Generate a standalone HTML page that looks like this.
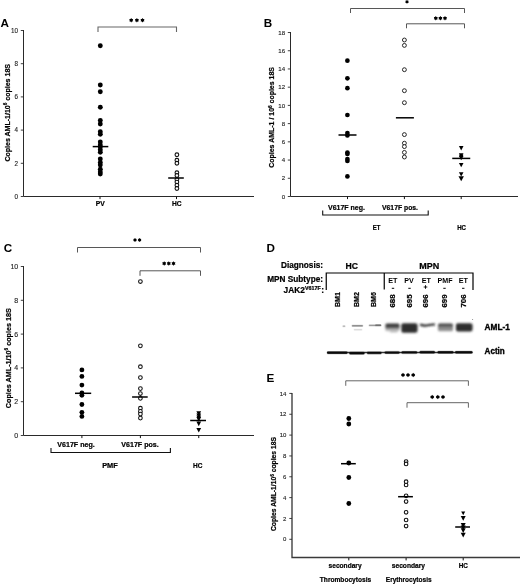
<!DOCTYPE html>
<html><head><meta charset="utf-8"><title>Figure</title>
<style>
html,body{margin:0;padding:0;background:#fff;}
body{width:520px;height:584px;overflow:hidden;font-family:"Liberation Sans",sans-serif;}
svg{display:block;will-change:transform;font-family:"Liberation Sans",sans-serif;}
</style></head><body>
<svg width="520" height="584" viewBox="0 0 520 584">
<defs>
<filter id="bl" x="-5%" y="-50%" width="110%" height="200%"><feGaussianBlur stdDeviation="0.85"/></filter>
<filter id="bl2" x="-5%" y="-100%" width="110%" height="300%"><feGaussianBlur stdDeviation="0.5"/></filter>
<linearGradient id="g688" x1="0" y1="0" x2="0" y2="1"><stop offset="0" stop-color="#333"/><stop offset="0.45" stop-color="#4a4a4a"/><stop offset="0.7" stop-color="#aaa"/><stop offset="1" stop-color="#ddd"/></linearGradient>
<linearGradient id="g699" x1="0" y1="0" x2="0" y2="1"><stop offset="0" stop-color="#383838"/><stop offset="0.3" stop-color="#555"/><stop offset="0.5" stop-color="#888"/><stop offset="1" stop-color="#999"/></linearGradient>
</defs>
<rect width="520" height="584" fill="#fff"/>
<text x="0.4" y="26.5" font-size="11.7" font-weight="bold" text-anchor="start" fill="#000">A</text>
<path d="M23.5 30V196.5H254" fill="none" stroke="#2a2a2a" stroke-width="1"/>
<path d="M20.8 196.5H23.5" stroke="#2a2a2a" stroke-width="0.9"/>
<text x="18.0" y="198.7" font-size="6.3" font-weight="normal" text-anchor="end" fill="#222" stroke="#222" stroke-width="0.12">0</text>
<path d="M20.8 163.3H23.5" stroke="#2a2a2a" stroke-width="0.9"/>
<text x="18.0" y="165.5" font-size="6.3" font-weight="normal" text-anchor="end" fill="#222" stroke="#222" stroke-width="0.12">2</text>
<path d="M20.8 130.1H23.5" stroke="#2a2a2a" stroke-width="0.9"/>
<text x="18.0" y="132.29999999999998" font-size="6.3" font-weight="normal" text-anchor="end" fill="#222" stroke="#222" stroke-width="0.12">4</text>
<path d="M20.8 96.89999999999999H23.5" stroke="#2a2a2a" stroke-width="0.9"/>
<text x="18.0" y="99.1" font-size="6.3" font-weight="normal" text-anchor="end" fill="#222" stroke="#222" stroke-width="0.12">6</text>
<path d="M20.8 63.69999999999999H23.5" stroke="#2a2a2a" stroke-width="0.9"/>
<text x="18.0" y="65.89999999999999" font-size="6.3" font-weight="normal" text-anchor="end" fill="#222" stroke="#222" stroke-width="0.12">8</text>
<path d="M20.8 30.5H23.5" stroke="#2a2a2a" stroke-width="0.9"/>
<text x="18.0" y="32.7" font-size="6.3" font-weight="normal" text-anchor="end" fill="#222" stroke="#222" stroke-width="0.12">10</text>
<path d="M100 196.5V199.1" stroke="#111" stroke-width="1"/>
<path d="M176.5 196.5V199.1" stroke="#111" stroke-width="1"/>
<text x="9.7" y="112.8" font-size="7.6" font-weight="bold" text-anchor="middle" fill="#000" textLength="97.6" lengthAdjust="spacingAndGlyphs" transform="rotate(-90 9.7 112.8)" stroke="#000" stroke-width="0.22">Copies AML-1/10<tspan font-size="5" dy="-2.6">6</tspan><tspan dy="2.6"> copies 18S</tspan></text>
<circle cx="100.3" cy="45.7" r="2.45" fill="#000"/>
<circle cx="100.3" cy="85" r="2.45" fill="#000"/>
<circle cx="100.3" cy="91.75" r="2.45" fill="#000"/>
<circle cx="100.3" cy="107.2" r="2.45" fill="#000"/>
<circle cx="100.3" cy="120.5" r="2.45" fill="#000"/>
<circle cx="100.3" cy="124" r="2.45" fill="#000"/>
<circle cx="100.3" cy="131.7" r="2.45" fill="#000"/>
<circle cx="100.3" cy="134.2" r="2.45" fill="#000"/>
<circle cx="100.3" cy="142" r="2.45" fill="#000"/>
<circle cx="100.3" cy="144.9" r="2.45" fill="#000"/>
<circle cx="100.3" cy="147" r="2.45" fill="#000"/>
<circle cx="100.3" cy="149.7" r="2.45" fill="#000"/>
<circle cx="100.3" cy="152.2" r="2.45" fill="#000"/>
<circle cx="100.3" cy="159" r="2.45" fill="#000"/>
<circle cx="100.3" cy="162.5" r="2.45" fill="#000"/>
<circle cx="100.3" cy="165" r="2.45" fill="#000"/>
<circle cx="100.3" cy="169.3" r="2.45" fill="#000"/>
<circle cx="100.3" cy="172" r="2.45" fill="#000"/>
<circle cx="100.3" cy="174" r="2.45" fill="#000"/>
<path d="M92.7 146.6H108.3" stroke="#000" stroke-width="1.5"/>
<circle cx="176.9" cy="154.75" r="1.85" fill="#fff" stroke="#111" stroke-width="1.1"/>
<circle cx="176.9" cy="160.25" r="1.85" fill="#fff" stroke="#111" stroke-width="1.1"/>
<circle cx="176.9" cy="163.25" r="1.85" fill="#fff" stroke="#111" stroke-width="1.1"/>
<circle cx="176.9" cy="172.7" r="1.85" fill="#fff" stroke="#111" stroke-width="1.1"/>
<circle cx="176.9" cy="175.5" r="1.85" fill="#fff" stroke="#111" stroke-width="1.1"/>
<circle cx="176.9" cy="179.6" r="1.85" fill="#fff" stroke="#111" stroke-width="1.1"/>
<circle cx="176.9" cy="182.1" r="1.85" fill="#fff" stroke="#111" stroke-width="1.1"/>
<circle cx="176.9" cy="185.2" r="1.85" fill="#fff" stroke="#111" stroke-width="1.1"/>
<circle cx="176.9" cy="188.5" r="1.85" fill="#fff" stroke="#111" stroke-width="1.1"/>
<path d="M168.2 178H183.8" stroke="#000" stroke-width="1.5"/>
<path d="M98 32V27H176.5V32" fill="none" stroke="#666" stroke-width="1.1"/>
<polygon points="131.20,17.95 131.92,18.94 133.15,19.07 132.65,20.20 133.15,21.32 131.92,21.46 131.20,22.45 130.47,21.46 129.25,21.32 129.75,20.20 129.25,19.07 130.47,18.94" fill="#000"/><polygon points="136.90,17.95 137.62,18.94 138.85,19.07 138.35,20.20 138.85,21.32 137.62,21.46 136.90,22.45 136.18,21.46 134.95,21.32 135.45,20.20 134.95,19.07 136.18,18.94" fill="#000"/><polygon points="142.50,17.95 143.22,18.94 144.45,19.07 143.95,20.20 144.45,21.32 143.22,21.46 142.50,22.45 141.78,21.46 140.55,21.32 141.05,20.20 140.55,19.07 141.78,18.94" fill="#000"/>
<text x="100.2" y="205.8" font-size="7.2" font-weight="bold" text-anchor="middle" fill="#000" textLength="9" lengthAdjust="spacingAndGlyphs" stroke="#000" stroke-width="0.22">PV</text>
<text x="176.8" y="205.8" font-size="7.2" font-weight="bold" text-anchor="middle" fill="#000" textLength="9.6" lengthAdjust="spacingAndGlyphs" stroke="#000" stroke-width="0.22">HC</text>
<text x="263.7" y="26.7" font-size="11.7" font-weight="bold" text-anchor="start" fill="#000">B</text>
<path d="M290.5 32V196.5H518" fill="none" stroke="#2a2a2a" stroke-width="1"/>
<path d="M287.8 196.5H290.5" stroke="#2a2a2a" stroke-width="0.9"/>
<text x="285.1" y="198.6" font-size="6.1" font-weight="normal" text-anchor="end" fill="#222" stroke="#222" stroke-width="0.12">0</text>
<path d="M287.8 178.28H290.5" stroke="#2a2a2a" stroke-width="0.9"/>
<text x="285.1" y="180.38" font-size="6.1" font-weight="normal" text-anchor="end" fill="#222" stroke="#222" stroke-width="0.12">2</text>
<path d="M287.8 160.06H290.5" stroke="#2a2a2a" stroke-width="0.9"/>
<text x="285.1" y="162.16" font-size="6.1" font-weight="normal" text-anchor="end" fill="#222" stroke="#222" stroke-width="0.12">4</text>
<path d="M287.8 141.84H290.5" stroke="#2a2a2a" stroke-width="0.9"/>
<text x="285.1" y="143.94" font-size="6.1" font-weight="normal" text-anchor="end" fill="#222" stroke="#222" stroke-width="0.12">6</text>
<path d="M287.8 123.62H290.5" stroke="#2a2a2a" stroke-width="0.9"/>
<text x="285.1" y="125.72" font-size="6.1" font-weight="normal" text-anchor="end" fill="#222" stroke="#222" stroke-width="0.12">8</text>
<path d="M287.8 105.4H290.5" stroke="#2a2a2a" stroke-width="0.9"/>
<text x="285.1" y="107.5" font-size="6.1" font-weight="normal" text-anchor="end" fill="#222" stroke="#222" stroke-width="0.12">10</text>
<path d="M287.8 87.18H290.5" stroke="#2a2a2a" stroke-width="0.9"/>
<text x="285.1" y="89.28" font-size="6.1" font-weight="normal" text-anchor="end" fill="#222" stroke="#222" stroke-width="0.12">12</text>
<path d="M287.8 68.96000000000001H290.5" stroke="#2a2a2a" stroke-width="0.9"/>
<text x="285.1" y="71.06" font-size="6.1" font-weight="normal" text-anchor="end" fill="#222" stroke="#222" stroke-width="0.12">14</text>
<path d="M287.8 50.74000000000001H290.5" stroke="#2a2a2a" stroke-width="0.9"/>
<text x="285.1" y="52.84000000000001" font-size="6.1" font-weight="normal" text-anchor="end" fill="#222" stroke="#222" stroke-width="0.12">16</text>
<path d="M287.8 32.52000000000001H290.5" stroke="#2a2a2a" stroke-width="0.9"/>
<text x="285.1" y="34.62000000000001" font-size="6.1" font-weight="normal" text-anchor="end" fill="#222" stroke="#222" stroke-width="0.12">18</text>
<path d="M347.5 196.5V199.1" stroke="#111" stroke-width="1"/>
<path d="M404.4 196.5V199.1" stroke="#111" stroke-width="1"/>
<path d="M461.2 196.5V199.1" stroke="#111" stroke-width="1"/>
<text x="274.2" y="117.4" font-size="7.6" font-weight="bold" text-anchor="middle" fill="#000" textLength="100.7" lengthAdjust="spacingAndGlyphs" transform="rotate(-90 274.2 117.4)" stroke="#000" stroke-width="0.22">Copies AML-1 / 10<tspan font-size="5" dy="-2.6">6</tspan><tspan dy="2.6"> copies 18S</tspan></text>
<circle cx="347.4" cy="60.7" r="2.35" fill="#000"/>
<circle cx="347.4" cy="78.3" r="2.35" fill="#000"/>
<circle cx="347.4" cy="88.2" r="2.35" fill="#000"/>
<circle cx="347.4" cy="115" r="2.35" fill="#000"/>
<circle cx="347.4" cy="133" r="2.35" fill="#000"/>
<circle cx="347.4" cy="135.5" r="2.35" fill="#000"/>
<circle cx="347.4" cy="152.5" r="2.35" fill="#000"/>
<circle cx="347.4" cy="154" r="2.35" fill="#000"/>
<circle cx="347.4" cy="159" r="2.35" fill="#000"/>
<circle cx="347.4" cy="161" r="2.35" fill="#000"/>
<circle cx="347.4" cy="176.4" r="2.35" fill="#000"/>
<path d="M338.5 135H356.5" stroke="#000" stroke-width="1.5"/>
<circle cx="404.4" cy="40" r="1.95" fill="#fff" stroke="#111" stroke-width="0.9"/>
<circle cx="404.4" cy="45.4" r="1.95" fill="#fff" stroke="#111" stroke-width="0.9"/>
<circle cx="404.4" cy="69.7" r="1.95" fill="#fff" stroke="#111" stroke-width="0.9"/>
<circle cx="404.4" cy="90.7" r="1.95" fill="#fff" stroke="#111" stroke-width="0.9"/>
<circle cx="404.4" cy="102.7" r="1.95" fill="#fff" stroke="#111" stroke-width="0.9"/>
<circle cx="404.4" cy="134.6" r="1.95" fill="#fff" stroke="#111" stroke-width="0.9"/>
<circle cx="404.4" cy="143.2" r="1.95" fill="#fff" stroke="#111" stroke-width="0.9"/>
<circle cx="404.4" cy="146.6" r="1.95" fill="#fff" stroke="#111" stroke-width="0.9"/>
<circle cx="404.4" cy="152.4" r="1.95" fill="#fff" stroke="#111" stroke-width="0.9"/>
<circle cx="404.4" cy="157" r="1.95" fill="#fff" stroke="#111" stroke-width="0.9"/>
<path d="M395.9 117.8H413.9" stroke="#000" stroke-width="1.5"/>
<path d="M458.9 146.06H463.5L461.2 150.43Z" fill="#000"/>
<path d="M458.9 153.35999999999999H463.5L461.2 157.73Z" fill="#000"/>
<path d="M458.9 154.66H463.5L461.2 159.03Z" fill="#000"/>
<path d="M458.9 155.96H463.5L461.2 160.33Z" fill="#000"/>
<path d="M458.9 162.96H463.5L461.2 167.33Z" fill="#000"/>
<path d="M458.9 172.16H463.5L461.2 176.53Z" fill="#000"/>
<path d="M458.5 176.24H463.9L461.2 181.37Z" fill="#000"/>
<path d="M452.25 158.4H470.25" stroke="#000" stroke-width="1.5"/>
<path d="M350.5 13.0V8.5H464.5V13.0" fill="none" stroke="#444" stroke-width="0.9"/>
<polygon points="407.00,-0.20 407.65,0.67 408.73,0.80 408.30,1.80 408.73,2.80 407.65,2.93 407.00,3.80 406.35,2.93 405.27,2.80 405.70,1.80 405.27,0.80 406.35,0.67" fill="#000"/>
<path d="M406.5 28.3V23.8H464.5V28.3" fill="none" stroke="#444" stroke-width="0.9"/>
<polygon points="435.80,15.95 436.53,16.94 437.75,17.07 437.25,18.20 437.75,19.32 436.53,19.46 435.80,20.45 435.07,19.46 433.85,19.32 434.35,18.20 433.85,17.07 435.07,16.94" fill="#000"/><polygon points="440.40,15.95 441.12,16.94 442.35,17.07 441.85,18.20 442.35,19.32 441.12,19.46 440.40,20.45 439.67,19.46 438.45,19.32 438.95,18.20 438.45,17.07 439.67,16.94" fill="#000"/><polygon points="445.00,15.95 445.73,16.94 446.95,17.07 446.45,18.20 446.95,19.32 445.73,19.46 445.00,20.45 444.27,19.46 443.05,19.32 443.55,18.20 443.05,17.07 444.27,16.94" fill="#000"/>
<text x="346.5" y="209.8" font-size="7.2" font-weight="bold" text-anchor="middle" fill="#000" textLength="37" lengthAdjust="spacingAndGlyphs" stroke="#000" stroke-width="0.22">V617F neg.</text>
<text x="400" y="209.8" font-size="7.2" font-weight="bold" text-anchor="middle" fill="#000" textLength="36" lengthAdjust="spacingAndGlyphs" stroke="#000" stroke-width="0.22">V617F pos.</text>
<path d="M322.7 210.5V215H428.2V210.5" fill="none" stroke="#111" stroke-width="1.1"/>
<text x="376.5" y="229.6" font-size="7.2" font-weight="bold" text-anchor="middle" fill="#000" textLength="7.6" lengthAdjust="spacingAndGlyphs" stroke="#000" stroke-width="0.22">ET</text>
<text x="461.6" y="229.6" font-size="7.2" font-weight="bold" text-anchor="middle" fill="#000" textLength="8.8" lengthAdjust="spacingAndGlyphs" stroke="#000" stroke-width="0.22">HC</text>
<text x="3.7" y="252" font-size="11.7" font-weight="bold" text-anchor="start" fill="#000">C</text>
<path d="M23.5 266V435.5H254" fill="none" stroke="#2a2a2a" stroke-width="1"/>
<path d="M20.8 435.5H23.5" stroke="#2a2a2a" stroke-width="0.9"/>
<text x="18.2" y="438.0" font-size="7" font-weight="normal" text-anchor="end" fill="#222" stroke="#222" stroke-width="0.12">0</text>
<path d="M20.8 401.7H23.5" stroke="#2a2a2a" stroke-width="0.9"/>
<text x="18.2" y="404.2" font-size="7" font-weight="normal" text-anchor="end" fill="#222" stroke="#222" stroke-width="0.12">2</text>
<path d="M20.8 367.9H23.5" stroke="#2a2a2a" stroke-width="0.9"/>
<text x="18.2" y="370.4" font-size="7" font-weight="normal" text-anchor="end" fill="#222" stroke="#222" stroke-width="0.12">4</text>
<path d="M20.8 334.1H23.5" stroke="#2a2a2a" stroke-width="0.9"/>
<text x="18.2" y="336.6" font-size="7" font-weight="normal" text-anchor="end" fill="#222" stroke="#222" stroke-width="0.12">6</text>
<path d="M20.8 300.3H23.5" stroke="#2a2a2a" stroke-width="0.9"/>
<text x="18.2" y="302.8" font-size="7" font-weight="normal" text-anchor="end" fill="#222" stroke="#222" stroke-width="0.12">8</text>
<path d="M20.8 266.5H23.5" stroke="#2a2a2a" stroke-width="0.9"/>
<text x="18.2" y="269.0" font-size="7" font-weight="normal" text-anchor="end" fill="#222" stroke="#222" stroke-width="0.12">10</text>
<path d="M81.9 435.5V438.1" stroke="#111" stroke-width="1"/>
<path d="M140.4 435.5V438.1" stroke="#111" stroke-width="1"/>
<path d="M198.75 435.5V438.1" stroke="#111" stroke-width="1"/>
<text x="10.6" y="358.2" font-size="7.6" font-weight="bold" text-anchor="middle" fill="#000" textLength="100" lengthAdjust="spacingAndGlyphs" transform="rotate(-90 10.6 358.2)" stroke="#000" stroke-width="0.22">Copies AML-1/10<tspan font-size="5" dy="-2.6">6</tspan><tspan dy="2.6"> copies 18S</tspan></text>
<circle cx="81.9" cy="369.9" r="2.4" fill="#000"/>
<circle cx="81.9" cy="376.4" r="2.4" fill="#000"/>
<circle cx="81.9" cy="385.1" r="2.4" fill="#000"/>
<circle cx="81.9" cy="392.9" r="2.4" fill="#000"/>
<circle cx="81.9" cy="395.3" r="2.4" fill="#000"/>
<circle cx="81.9" cy="404.5" r="2.4" fill="#000"/>
<circle cx="81.9" cy="412.3" r="2.4" fill="#000"/>
<circle cx="81.9" cy="416.4" r="2.4" fill="#000"/>
<path d="M75.0 393.3H91.19999999999999" stroke="#000" stroke-width="1.5"/>
<circle cx="140.4" cy="281.5" r="1.85" fill="#fff" stroke="#111" stroke-width="1.05"/>
<circle cx="140.4" cy="345.8" r="1.85" fill="#fff" stroke="#111" stroke-width="1.05"/>
<circle cx="140.4" cy="366.7" r="1.85" fill="#fff" stroke="#111" stroke-width="1.05"/>
<circle cx="140.4" cy="377.6" r="1.85" fill="#fff" stroke="#111" stroke-width="1.05"/>
<circle cx="140.4" cy="388.6" r="1.85" fill="#fff" stroke="#111" stroke-width="1.05"/>
<circle cx="140.4" cy="393.5" r="1.85" fill="#fff" stroke="#111" stroke-width="1.05"/>
<circle cx="140.4" cy="398.3" r="1.85" fill="#fff" stroke="#111" stroke-width="1.05"/>
<circle cx="140.4" cy="408.2" r="1.85" fill="#fff" stroke="#111" stroke-width="1.05"/>
<circle cx="140.4" cy="411.4" r="1.85" fill="#fff" stroke="#111" stroke-width="1.05"/>
<circle cx="140.4" cy="414.1" r="1.85" fill="#fff" stroke="#111" stroke-width="1.05"/>
<circle cx="140.4" cy="418.1" r="1.85" fill="#fff" stroke="#111" stroke-width="1.05"/>
<path d="M132.1 397H147.70000000000002" stroke="#000" stroke-width="1.5"/>
<path d="M196.35 411.18H201.15L198.75 415.74Z" fill="#000"/>
<path d="M196.35 413.38H201.15L198.75 417.94Z" fill="#000"/>
<path d="M196.35 415.38H201.15L198.75 419.94Z" fill="#000"/>
<path d="M196.35 417.08H201.15L198.75 421.64Z" fill="#000"/>
<path d="M196.35 421.58H201.15L198.75 426.14Z" fill="#000"/>
<path d="M196.35 427.88H201.15L198.75 432.44Z" fill="#000"/>
<path d="M190.2 420.5H206.0" stroke="#000" stroke-width="1.5"/>
<path d="M77.5 252.5V247.5H200.5V252.5" fill="none" stroke="#444" stroke-width="0.9"/>
<polygon points="135.00,238.00 135.65,238.87 136.73,239.00 136.30,240.00 136.73,241.00 135.65,241.13 135.00,242.00 134.35,241.13 133.27,241.00 133.70,240.00 133.27,239.00 134.35,238.87" fill="#000"/><polygon points="139.60,238.00 140.25,238.87 141.33,239.00 140.90,240.00 141.33,241.00 140.25,241.13 139.60,242.00 138.95,241.13 137.87,241.00 138.30,240.00 137.87,239.00 138.95,238.87" fill="#000"/>
<path d="M140 275.8V270.8H200.5V275.8" fill="none" stroke="#444" stroke-width="0.9"/>
<polygon points="164.20,261.15 164.92,262.14 166.15,262.27 165.65,263.40 166.15,264.52 164.92,264.66 164.20,265.65 163.47,264.66 162.25,264.52 162.75,263.40 162.25,262.27 163.47,262.14" fill="#000"/><polygon points="168.80,261.15 169.53,262.14 170.75,262.27 170.25,263.40 170.75,264.52 169.53,264.66 168.80,265.65 168.08,264.66 166.85,264.52 167.35,263.40 166.85,262.27 168.08,262.14" fill="#000"/><polygon points="173.50,261.15 174.22,262.14 175.45,262.27 174.95,263.40 175.45,264.52 174.22,264.66 173.50,265.65 172.78,264.66 171.55,264.52 172.05,263.40 171.55,262.27 172.78,262.14" fill="#000"/>
<text x="76" y="446.5" font-size="7.2" font-weight="bold" text-anchor="middle" fill="#000" textLength="37.4" lengthAdjust="spacingAndGlyphs" stroke="#000" stroke-width="0.22">V617F neg.</text>
<text x="140" y="446.5" font-size="7.2" font-weight="bold" text-anchor="middle" fill="#000" textLength="37.4" lengthAdjust="spacingAndGlyphs" stroke="#000" stroke-width="0.22">V617F pos.</text>
<path d="M51 448.0V452.5H170.4V448.0" fill="none" stroke="#111" stroke-width="1.1"/>
<text x="110" y="467.5" font-size="7.2" font-weight="bold" text-anchor="middle" fill="#000" textLength="15.6" lengthAdjust="spacingAndGlyphs" stroke="#000" stroke-width="0.22">PMF</text>
<text x="197.8" y="467.5" font-size="7.2" font-weight="bold" text-anchor="middle" fill="#000" textLength="9.4" lengthAdjust="spacingAndGlyphs" stroke="#000" stroke-width="0.22">HC</text>
<text x="266.4" y="251.8" font-size="11.7" font-weight="bold" text-anchor="start" fill="#000">D</text>
<text x="323" y="268.4" font-size="8.5" font-weight="bold" text-anchor="end" fill="#000" textLength="42" lengthAdjust="spacingAndGlyphs" stroke="#000" stroke-width="0.22">Diagnosis:</text>
<text x="351.75" y="269" font-size="9" font-weight="bold" text-anchor="middle" fill="#000" textLength="12.5" lengthAdjust="spacingAndGlyphs" stroke="#000" stroke-width="0.22">HC</text>
<text x="429.25" y="269" font-size="9" font-weight="bold" text-anchor="middle" fill="#000" textLength="20" lengthAdjust="spacingAndGlyphs" stroke="#000" stroke-width="0.22">MPN</text>
<text x="323" y="282.2" font-size="8.5" font-weight="bold" text-anchor="end" fill="#000" textLength="55.8" lengthAdjust="spacingAndGlyphs" stroke="#000" stroke-width="0.22">MPN Subtype:</text>
<text x="304.8" y="292.5" font-size="8.4" font-weight="bold" text-anchor="end" fill="#000" textLength="21.3" lengthAdjust="spacingAndGlyphs" stroke="#000" stroke-width="0.22">JAK2</text>
<text x="305.1" y="289.8" font-size="5" font-weight="bold" text-anchor="start" fill="#000" textLength="15.6" lengthAdjust="spacingAndGlyphs" stroke="#000" stroke-width="0.22">V617F</text>
<text x="321.2" y="292.5" font-size="8.4" font-weight="bold" text-anchor="start" fill="#000" stroke="#000" stroke-width="0.22">:</text>
<path d="M326.25 290V273H473V290M384.25 273V289.5" fill="none" stroke="#000" stroke-width="1.2"/>
<text x="392.9" y="282.5" font-size="7" font-weight="bold" text-anchor="middle" fill="#000" textLength="9.25" lengthAdjust="spacingAndGlyphs" stroke="none">ET</text>
<text x="409" y="282.5" font-size="7" font-weight="bold" text-anchor="middle" fill="#000" textLength="9.5" lengthAdjust="spacingAndGlyphs" stroke="none">PV</text>
<text x="426.25" y="282.5" font-size="7" font-weight="bold" text-anchor="middle" fill="#000" textLength="9.25" lengthAdjust="spacingAndGlyphs" stroke="none">ET</text>
<text x="445" y="282.5" font-size="7" font-weight="bold" text-anchor="middle" fill="#000" textLength="15" lengthAdjust="spacingAndGlyphs" stroke="none">PMF</text>
<text x="463.4" y="282.5" font-size="7" font-weight="bold" text-anchor="middle" fill="#000" textLength="9.25" lengthAdjust="spacingAndGlyphs" stroke="none">ET</text>
<path d="M391.8 288.3H394.2" stroke="#000" stroke-width="1"/>
<path d="M408.3 288.3H410.7" stroke="#000" stroke-width="1"/>
<path d="M423.7 287H427.3M425.5 285.2V288.8" stroke="#000" stroke-width="0.9"/>
<path d="M443.3 288.3H445.7" stroke="#000" stroke-width="1"/>
<path d="M462.05 288.3H464.45" stroke="#000" stroke-width="1"/>
<text x="340.1" y="299.6" font-size="7.3" font-weight="bold" text-anchor="middle" fill="#000" textLength="15" lengthAdjust="spacingAndGlyphs" transform="rotate(-90 340.1 299.6)" stroke="#000" stroke-width="0.22">BM1</text>
<text x="358.85" y="299.6" font-size="7.3" font-weight="bold" text-anchor="middle" fill="#000" textLength="15" lengthAdjust="spacingAndGlyphs" transform="rotate(-90 358.85 299.6)" stroke="#000" stroke-width="0.22">BM2</text>
<text x="375.85" y="299.6" font-size="7.3" font-weight="bold" text-anchor="middle" fill="#000" textLength="15" lengthAdjust="spacingAndGlyphs" transform="rotate(-90 375.85 299.6)" stroke="#000" stroke-width="0.22">BM6</text>
<text x="394.55" y="301.0" font-size="7.7" font-weight="bold" text-anchor="middle" fill="#000" textLength="13.2" lengthAdjust="spacingAndGlyphs" transform="rotate(-90 394.55 301.0)" stroke="#000" stroke-width="0.22">688</text>
<text x="411.55" y="301.0" font-size="7.7" font-weight="bold" text-anchor="middle" fill="#000" textLength="13.2" lengthAdjust="spacingAndGlyphs" transform="rotate(-90 411.55 301.0)" stroke="#000" stroke-width="0.22">695</text>
<text x="427.8" y="301.0" font-size="7.7" font-weight="bold" text-anchor="middle" fill="#000" textLength="13.2" lengthAdjust="spacingAndGlyphs" transform="rotate(-90 427.8 301.0)" stroke="#000" stroke-width="0.22">696</text>
<text x="447.3" y="301.0" font-size="7.7" font-weight="bold" text-anchor="middle" fill="#000" textLength="13.2" lengthAdjust="spacingAndGlyphs" transform="rotate(-90 447.3 301.0)" stroke="#000" stroke-width="0.22">699</text>
<text x="466.05" y="301.0" font-size="7.7" font-weight="bold" text-anchor="middle" fill="#000" textLength="13.2" lengthAdjust="spacingAndGlyphs" transform="rotate(-90 466.05 301.0)" stroke="#000" stroke-width="0.22">706</text>
<text x="484.6" y="329.9" font-size="8.8" font-weight="bold" text-anchor="start" fill="#000" textLength="25.3" lengthAdjust="spacingAndGlyphs" stroke="#000" stroke-width="0.35">AML-1</text>
<text x="484.6" y="354.4" font-size="8.8" font-weight="bold" text-anchor="start" fill="#000" textLength="20.2" lengthAdjust="spacingAndGlyphs" stroke="#000" stroke-width="0.35">Actin</text>
<path d="M343.3 326.2H344.6" stroke="#999" stroke-width="2.4" stroke-linecap="round" opacity="0.14"/><path d="M343.3 326.2H344.6" stroke="#999" stroke-width="1.6" stroke-linecap="round" opacity="0.28"/><path d="M343.3 326.2H344.6" stroke="#999" stroke-width="0.8" stroke-linecap="round" opacity="0.8"/>
<path d="M352.6 325.8H362.2" stroke="#777" stroke-width="2.5" stroke-linecap="round" opacity="0.18"/><path d="M352.6 325.8H362.2" stroke="#777" stroke-width="1.7" stroke-linecap="round" opacity="0.35"/><path d="M352.6 325.8H362.2" stroke="#777" stroke-width="0.9" stroke-linecap="round" opacity="1.0"/>
<path d="M354.5 329.7H361.5" stroke="#ccc" stroke-width="2.3" stroke-linecap="round" opacity="0.14"/><path d="M354.5 329.7H361.5" stroke="#ccc" stroke-width="1.5" stroke-linecap="round" opacity="0.28"/><path d="M354.5 329.7H361.5" stroke="#ccc" stroke-width="0.7" stroke-linecap="round" opacity="0.8"/>
<path d="M369.6 325.4H380.4" stroke="#888" stroke-width="2.4" stroke-linecap="round" opacity="0.18"/><path d="M369.6 325.4H380.4" stroke="#888" stroke-width="1.6" stroke-linecap="round" opacity="0.35"/><path d="M369.6 325.4H380.4" stroke="#888" stroke-width="0.8" stroke-linecap="round" opacity="1.0"/>
<path d="M376 325.2H380.4" stroke="#666" stroke-width="2.4" stroke-linecap="round" opacity="0.18"/><path d="M376 325.2H380.4" stroke="#666" stroke-width="1.6" stroke-linecap="round" opacity="0.35"/><path d="M376 325.2H380.4" stroke="#666" stroke-width="0.8" stroke-linecap="round" opacity="1.0"/>
<g filter="url(#bl)">
<rect x="385.4" y="323.6" width="14.1" height="8.0" rx="1.5" fill="url(#g688)" opacity="1"/>
<rect x="390" y="331" width="7.5" height="1.2" rx="0.5" fill="#999" opacity="0.8"/>
<rect x="401.3" y="323.2" width="16.2" height="9.6" rx="2" fill="#2e2e2e" opacity="1"/>
<path d="M420.8 324.8Q424 326.2 428 325.3T434 324.6" fill="none" stroke="#222" stroke-width="2.1" stroke-linecap="round"/>
<rect x="438" y="323.5" width="15" height="7.7" rx="1.5" fill="url(#g699)" opacity="1"/>
<rect x="455.9" y="323.2" width="16.6" height="8.4" rx="2" fill="#2e2e2e" opacity="1"/>
</g>
<circle cx="472.6" cy="319.4" r="0.5" fill="#777"/>
<path d="M327 352.5H472.5" stroke="#333" stroke-width="1.6"/>
<path d="M328.2 352.7H346.3" stroke="#0a0a0a" stroke-width="3.5" stroke-linecap="round" opacity="0.18"/><path d="M328.2 352.7H346.3" stroke="#0a0a0a" stroke-width="2.7" stroke-linecap="round" opacity="0.35"/><path d="M328.2 352.7H346.3" stroke="#0a0a0a" stroke-width="1.9" stroke-linecap="round" opacity="1.0"/>
<path d="M350.4 353.2H363.40000000000003" stroke="#0a0a0a" stroke-width="3.5" stroke-linecap="round" opacity="0.18"/><path d="M350.4 353.2H363.40000000000003" stroke="#0a0a0a" stroke-width="2.7" stroke-linecap="round" opacity="0.35"/><path d="M350.4 353.2H363.40000000000003" stroke="#0a0a0a" stroke-width="1.9" stroke-linecap="round" opacity="1.0"/>
<path d="M368.2 352.9H380.3" stroke="#0a0a0a" stroke-width="3.5" stroke-linecap="round" opacity="0.18"/><path d="M368.2 352.9H380.3" stroke="#0a0a0a" stroke-width="2.7" stroke-linecap="round" opacity="0.35"/><path d="M368.2 352.9H380.3" stroke="#0a0a0a" stroke-width="1.9" stroke-linecap="round" opacity="1.0"/>
<path d="M385.8 352.6H398.40000000000003" stroke="#0a0a0a" stroke-width="3.5" stroke-linecap="round" opacity="0.18"/><path d="M385.8 352.6H398.40000000000003" stroke="#0a0a0a" stroke-width="2.7" stroke-linecap="round" opacity="0.35"/><path d="M385.8 352.6H398.40000000000003" stroke="#0a0a0a" stroke-width="1.9" stroke-linecap="round" opacity="1.0"/>
<path d="M402.7 352.4H416.0" stroke="#0a0a0a" stroke-width="3.5" stroke-linecap="round" opacity="0.18"/><path d="M402.7 352.4H416.0" stroke="#0a0a0a" stroke-width="2.7" stroke-linecap="round" opacity="0.35"/><path d="M402.7 352.4H416.0" stroke="#0a0a0a" stroke-width="1.9" stroke-linecap="round" opacity="1.0"/>
<path d="M420.7 352.2H433.8" stroke="#0a0a0a" stroke-width="3.5" stroke-linecap="round" opacity="0.18"/><path d="M420.7 352.2H433.8" stroke="#0a0a0a" stroke-width="2.7" stroke-linecap="round" opacity="0.35"/><path d="M420.7 352.2H433.8" stroke="#0a0a0a" stroke-width="1.9" stroke-linecap="round" opacity="1.0"/>
<path d="M438.7 352.3H452.3" stroke="#0a0a0a" stroke-width="3.5" stroke-linecap="round" opacity="0.18"/><path d="M438.7 352.3H452.3" stroke="#0a0a0a" stroke-width="2.7" stroke-linecap="round" opacity="0.35"/><path d="M438.7 352.3H452.3" stroke="#0a0a0a" stroke-width="1.9" stroke-linecap="round" opacity="1.0"/>
<path d="M456.2 352.3H471.3" stroke="#0a0a0a" stroke-width="3.5" stroke-linecap="round" opacity="0.18"/><path d="M456.2 352.3H471.3" stroke="#0a0a0a" stroke-width="2.7" stroke-linecap="round" opacity="0.35"/><path d="M456.2 352.3H471.3" stroke="#0a0a0a" stroke-width="1.9" stroke-linecap="round" opacity="1.0"/>
<text x="266.4" y="381.8" font-size="11.7" font-weight="bold" text-anchor="start" fill="#000">E</text>
<path d="M292 393V557.5H520" fill="none" stroke="#3a3a3a" stroke-width="1.35"/>
<path d="M289.3 539.3H292" stroke="#2a2a2a" stroke-width="0.9"/>
<text x="286.4" y="541.4" font-size="6.0" font-weight="normal" text-anchor="end" fill="#222" stroke="#222" stroke-width="0.12">0</text>
<path d="M289.3 518.4599999999999H292" stroke="#2a2a2a" stroke-width="0.9"/>
<text x="286.4" y="520.56" font-size="6.0" font-weight="normal" text-anchor="end" fill="#222" stroke="#222" stroke-width="0.12">2</text>
<path d="M289.3 497.61999999999995H292" stroke="#2a2a2a" stroke-width="0.9"/>
<text x="286.4" y="499.71999999999997" font-size="6.0" font-weight="normal" text-anchor="end" fill="#222" stroke="#222" stroke-width="0.12">4</text>
<path d="M289.3 476.78H292" stroke="#2a2a2a" stroke-width="0.9"/>
<text x="286.4" y="478.88" font-size="6.0" font-weight="normal" text-anchor="end" fill="#222" stroke="#222" stroke-width="0.12">6</text>
<path d="M289.3 455.93999999999994H292" stroke="#2a2a2a" stroke-width="0.9"/>
<text x="286.4" y="458.03999999999996" font-size="6.0" font-weight="normal" text-anchor="end" fill="#222" stroke="#222" stroke-width="0.12">8</text>
<path d="M289.3 435.09999999999997H292" stroke="#2a2a2a" stroke-width="0.9"/>
<text x="286.4" y="437.2" font-size="6.0" font-weight="normal" text-anchor="end" fill="#222" stroke="#222" stroke-width="0.12">10</text>
<path d="M289.3 414.26H292" stroke="#2a2a2a" stroke-width="0.9"/>
<text x="286.4" y="416.36" font-size="6.0" font-weight="normal" text-anchor="end" fill="#222" stroke="#222" stroke-width="0.12">12</text>
<path d="M289.3 393.41999999999996H292" stroke="#2a2a2a" stroke-width="0.9"/>
<text x="286.4" y="395.52" font-size="6.0" font-weight="normal" text-anchor="end" fill="#222" stroke="#222" stroke-width="0.12">14</text>
<path d="M348.8 558V560.4" stroke="#111" stroke-width="1"/>
<path d="M406.1 558V560.4" stroke="#111" stroke-width="1"/>
<path d="M463.2 558V560.4" stroke="#111" stroke-width="1"/>
<text x="276.3" y="484" font-size="7.1" font-weight="bold" text-anchor="middle" fill="#000" textLength="94" lengthAdjust="spacingAndGlyphs" transform="rotate(-90 276.3 484)" stroke="#000" stroke-width="0.22">Copies AML-1/10<tspan font-size="5" dy="-2.6">6</tspan><tspan dy="2.6"> copies 18S</tspan></text>
<circle cx="348.8" cy="418.5" r="2.4" fill="#000"/>
<circle cx="348.8" cy="424" r="2.4" fill="#000"/>
<circle cx="348.8" cy="463" r="2.4" fill="#000"/>
<circle cx="348.8" cy="477.5" r="2.4" fill="#000"/>
<circle cx="348.8" cy="503.5" r="2.4" fill="#000"/>
<path d="M341.0 463.7H355.79999999999995" stroke="#000" stroke-width="1.5"/>
<circle cx="406.1" cy="461.6" r="1.8" fill="#fff" stroke="#111" stroke-width="1.1"/>
<circle cx="406.1" cy="463.9" r="1.8" fill="#fff" stroke="#111" stroke-width="1.1"/>
<circle cx="406.1" cy="481.7" r="1.8" fill="#fff" stroke="#111" stroke-width="1.1"/>
<circle cx="406.1" cy="485" r="1.8" fill="#fff" stroke="#111" stroke-width="1.1"/>
<circle cx="406.1" cy="495.8" r="1.8" fill="#fff" stroke="#111" stroke-width="1.1"/>
<circle cx="406.1" cy="501.6" r="1.8" fill="#fff" stroke="#111" stroke-width="1.1"/>
<circle cx="406.1" cy="512.3" r="1.8" fill="#fff" stroke="#111" stroke-width="1.1"/>
<circle cx="406.1" cy="520" r="1.8" fill="#fff" stroke="#111" stroke-width="1.1"/>
<circle cx="406.1" cy="526.1" r="1.8" fill="#fff" stroke="#111" stroke-width="1.1"/>
<path d="M398.1 496.7H412.9" stroke="#000" stroke-width="1.5"/>
<path d="M461.2 511.4H465.2L463.2 515.2Z" fill="#000"/>
<path d="M460.7 516.0H465.7L463.2 520.75Z" fill="#000"/>
<path d="M460.7 523.0H465.7L463.2 527.75Z" fill="#000"/>
<path d="M460.7 525.5H465.7L463.2 530.25Z" fill="#000"/>
<path d="M460.7 528.3H465.7L463.2 533.05Z" fill="#000"/>
<path d="M460.7 532.7H465.7L463.2 537.45Z" fill="#000"/>
<path d="M455.20000000000005 527H470.0" stroke="#000" stroke-width="1.5"/>
<path d="M345.75 385.8V380.8H468.4V385.8" fill="none" stroke="#555" stroke-width="0.9"/>
<polygon points="403.00,372.75 403.73,373.74 404.95,373.88 404.45,375.00 404.95,376.12 403.73,376.26 403.00,377.25 402.27,376.26 401.05,376.12 401.55,375.00 401.05,373.88 402.27,373.74" fill="#000"/><polygon points="408.00,372.75 408.73,373.74 409.95,373.88 409.45,375.00 409.95,376.12 408.73,376.26 408.00,377.25 407.27,376.26 406.05,376.12 406.55,375.00 406.05,373.88 407.27,373.74" fill="#000"/><polygon points="413.20,372.75 413.93,373.74 415.15,373.88 414.65,375.00 415.15,376.12 413.93,376.26 413.20,377.25 412.47,376.26 411.25,376.12 411.75,375.00 411.25,373.88 412.47,373.74" fill="#000"/>
<path d="M407 407.7V402.7H468.4V407.7" fill="none" stroke="#555" stroke-width="0.9"/>
<polygon points="432.20,394.75 432.93,395.74 434.15,395.88 433.65,397.00 434.15,398.12 432.93,398.26 432.20,399.25 431.47,398.26 430.25,398.12 430.75,397.00 430.25,395.88 431.47,395.74" fill="#000"/><polygon points="437.80,394.75 438.53,395.74 439.75,395.88 439.25,397.00 439.75,398.12 438.53,398.26 437.80,399.25 437.07,398.26 435.85,398.12 436.35,397.00 435.85,395.88 437.07,395.74" fill="#000"/><polygon points="443.00,394.75 443.73,395.74 444.95,395.88 444.45,397.00 444.95,398.12 443.73,398.26 443.00,399.25 442.27,398.26 441.05,398.12 441.55,397.00 441.05,395.88 442.27,395.74" fill="#000"/>
<text x="345.1" y="568" font-size="7.2" font-weight="bold" text-anchor="middle" fill="#000" textLength="33" lengthAdjust="spacingAndGlyphs" stroke="#000" stroke-width="0.22">secondary</text>
<text x="345.5" y="582" font-size="7.2" font-weight="bold" text-anchor="middle" fill="#000" textLength="51.3" lengthAdjust="spacingAndGlyphs" stroke="#000" stroke-width="0.22">Thrombocytosis</text>
<text x="408.4" y="568" font-size="7.2" font-weight="bold" text-anchor="middle" fill="#000" textLength="33.3" lengthAdjust="spacingAndGlyphs" stroke="#000" stroke-width="0.22">secondary</text>
<text x="408.7" y="582" font-size="7.2" font-weight="bold" text-anchor="middle" fill="#000" textLength="45.8" lengthAdjust="spacingAndGlyphs" stroke="#000" stroke-width="0.22">Erythrocytosis</text>
<text x="463.3" y="568" font-size="7.2" font-weight="bold" text-anchor="middle" fill="#000" textLength="9.2" lengthAdjust="spacingAndGlyphs" stroke="#000" stroke-width="0.22">HC</text>
</svg>
</body></html>
